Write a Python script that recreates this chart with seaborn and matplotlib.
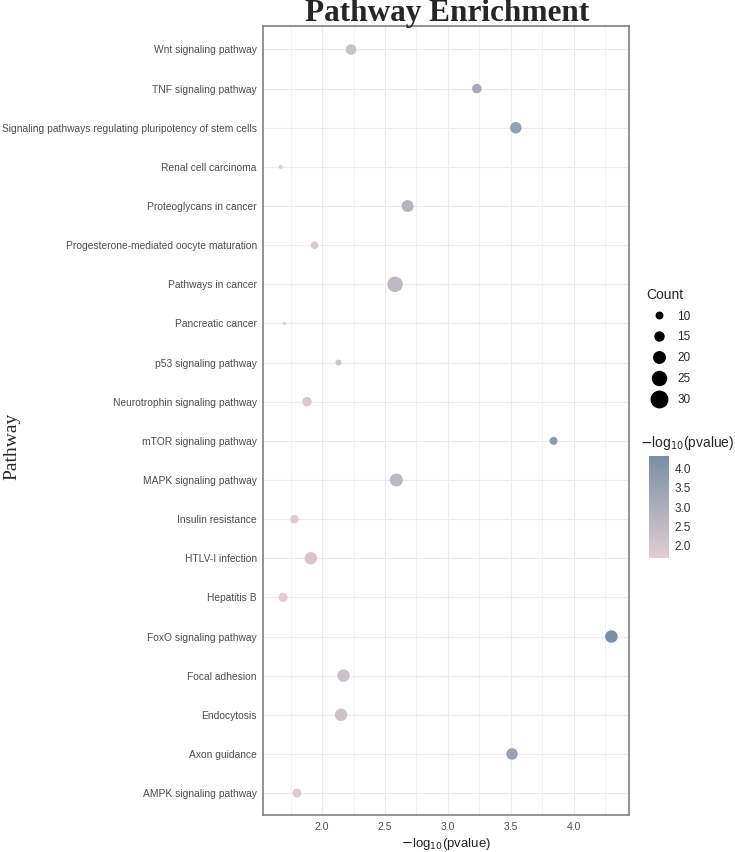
import numpy as np
import pandas as pd
import matplotlib
matplotlib.use("Agg")
import matplotlib.pyplot as plt
import seaborn as sns
from matplotlib.colors import LinearSegmentedColormap, Normalize
from matplotlib.lines import Line2D
from matplotlib.cm import ScalarMappable

# pathways, top to bottom
pathways = [
    "Wnt signaling pathway",
    "TNF signaling pathway",
    "Signaling pathways regulating pluripotency of stem cells",
    "Renal cell carcinoma",
    "Proteoglycans in cancer",
    "Progesterone-mediated oocyte maturation",
    "Pathways in cancer",
    "Pancreatic cancer",
    "p53 signaling pathway",
    "Neurotrophin signaling pathway",
    "mTOR signaling pathway",
    "MAPK signaling pathway",
    "Insulin resistance",
    "HTLV-I infection",
    "Hepatitis B",
    "FoxO signaling pathway",
    "Focal adhesion",
    "Endocytosis",
    "Axon guidance",
    "AMPK signaling pathway",
]
neglogp = [2.23, 3.23, 3.54, 1.67, 2.68, 1.94, 2.58, 1.70, 2.13, 1.88,
           3.84, 2.59, 1.78, 1.91, 1.69, 4.30, 2.17, 2.15, 3.51, 1.80]
counts = [18, 16, 20, 5, 21, 12, 28, 4, 9, 16,
          13, 23, 14, 22, 15, 22, 22, 22, 20, 15]
legend_counts = [10, 15, 20, 25, 30]
cbar_ticks = [2.0, 2.5, 3.0, 3.5, 4.0]
x_ticks = [2.0, 2.5, 3.0, 3.5, 4.0]

df = pd.DataFrame({"Pathway": pathways, "p": neglogp, "Count": counts})
df["pos"] = np.arange(len(pathways))


def count_to_d(c):
    # marker diameter in points
    return (1.5 + 0.5 * c) * 0.72


size_map = {c: count_to_d(c) ** 2 for c in sorted(set(counts))}

cmap = LinearSegmentedColormap.from_list("pb", ["#e0cdd1", "#7a8ea4"])
norm = Normalize(vmin=1.67, vmax=4.33)

sns.set_style("white")
plt.rcParams["font.family"] = ["Liberation Sans", "DejaVu Sans"]

fig = plt.figure(figsize=(7.35, 8.52), dpi=100)
ax = fig.add_axes([263 / 735, 1 - 815 / 852, 366 / 735, 789 / 852])

sns.scatterplot(data=df, x="p", y="pos", hue="p", palette=cmap, hue_norm=norm,
                size="Count", sizes=size_map, linewidth=0, legend=False,
                ax=ax, zorder=3)

ax.set_xlim(1.53, 4.44)
ax.set_ylim(len(pathways) - 1 + 0.56, -0.6)
ax.set_yticks(range(len(pathways)))
ax.set_yticklabels(pathways)
ax.set_xticks(x_ticks)
ax.set_xticklabels([f"{v:.1f}" for v in x_ticks])
ax.set_xticks([1.75, 2.25, 2.75, 3.25, 3.75, 4.25], minor=True)
ax.grid(True, which="major", color="#ebebeb", linewidth=0.85, zorder=0)
ax.grid(True, which="minor", axis="x", color="#f1f1f1", linewidth=0.6, zorder=0)
ax.set_axisbelow(True)
ax.tick_params(axis="both", which="major", labelsize=7.5, colors="#333333",
               labelcolor="#4d4d4d", length=3, width=0.8, pad=2)
ax.tick_params(axis="y", which="major", labelsize=7.4, pad=1.5)
ax.tick_params(axis="x", which="minor", length=0)
for s in ax.spines.values():
    s.set_color("#808080")
    s.set_linewidth(1.2)
ax.set_xlabel("$-$log$_{10}$(pvalue)", fontsize=9.5, color="#222222", labelpad=3)
ax.set_ylabel("")

fig.text(447 / 735, 1 - 21 / 852, "Pathway Enrichment", ha="center", va="baseline",
         fontsize=22.5, fontweight="bold", family="Liberation Serif")
fig.text(12 / 735, 1 - 446 / 852, "Pathway", rotation=90, ha="center", va="center",
         fontsize=14, family="Liberation Serif")

# size legend
handles = [Line2D([], [], linestyle="", marker="o", color="black",
                  markersize=count_to_d(c)) for c in legend_counts]
leg = fig.legend(handles, [str(c) for c in legend_counts], title="Count",
                 loc="upper left", bbox_to_anchor=(642 / 735, 1 - 283 / 852),
                 frameon=False, fontsize=8.5, title_fontsize=10,
                 labelspacing=0.75, handletextpad=0.6, borderaxespad=0)
leg._legend_box.align = "left"

# colour bar
cax = fig.add_axes([649 / 735, 1 - 558 / 852, 20 / 735, 102 / 852])
cb = fig.colorbar(ScalarMappable(norm=norm, cmap=cmap), cax=cax, ticks=cbar_ticks)
cb.outline.set_visible(False)
cb.ax.set_yticklabels([f"{v:.1f}" for v in cbar_ticks])
cb.ax.tick_params(labelsize=8.5, labelcolor="#333333", color="white", length=4,
                  direction="in", width=0.6, pad=4)
fig.text(640 / 735, 1 - 443 / 852, "$-$log$_{10}$(pvalue)", ha="left", va="center",
         fontsize=10)

fig.savefig("out.png", dpi=100)
